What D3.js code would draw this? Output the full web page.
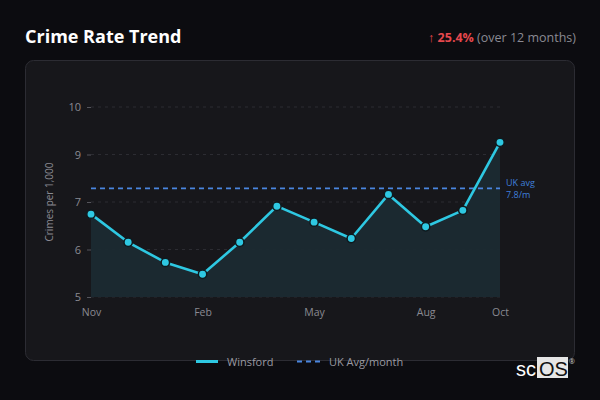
<!DOCTYPE html>
<html><head><meta charset="utf-8">
<script src="https://cdn.jsdelivr.net/npm/d3@7"></script>
<style>
html,body{margin:0;padding:0;background:#0c0c10;}
svg{display:block;font-family:"Open Sans","Noto Sans",sans-serif;}
</style></head>
<body>
<svg id="c" width="600" height="400"></svg>
<script>
const months = ["Nov","Dec","Jan","Feb","Mar","Apr","May","Jun","Jul","Aug","Sep","Oct"];
const winsford = [7.18,6.44,5.91,5.60,6.44,7.39,6.97,6.54,7.70,6.85,7.28,9.07];
const ukAvg = 7.86;
const ukAvgLabel = ["UK avg","7.8/m"];
const yTickValues = [5,6.25,7.5,8.75,10];
const yTickLabels = ["5","6","7","9","10"];
const xTickLabels = ["Nov","Feb","May","Aug","Oct"];
const changeText = "↑ 25.4%";
const changeNote = " (over 12 months)";

const svg = d3.select("#c");
svg.append("rect").attr("width",600).attr("height",400).attr("fill","#0c0c10");

svg.append("text").attr("x",25).attr("y",43).attr("fill","#ffffff")
  .attr("font-size",18).attr("font-weight",700).text("Crime Rate Trend");

const hdr = svg.append("text").attr("x",576).attr("y",42).attr("text-anchor","end").attr("font-size",12.5);
hdr.append("tspan").attr("fill","#e5484d").attr("font-weight",700).text(changeText);
hdr.append("tspan").attr("fill","#8a8a92").text(changeNote);

svg.append("rect").attr("x",25.5).attr("y",60.5).attr("width",549).attr("height",300)
  .attr("rx",8).attr("fill","#17171b").attr("stroke","#2c2c33");

const x = d3.scalePoint().domain(months).range([91,500]);
const y = d3.scaleLinear().domain([5,10]).range([297,107]);

const g = svg.append("g");
g.selectAll("line.grid").data(yTickValues).join("line")
  .attr("x1",91).attr("x2",500).attr("y1",d=>y(d)).attr("y2",d=>y(d))
  .attr("stroke","#2c2c32").attr("stroke-dasharray","3,4").attr("stroke-width",1);

const yAxis = d3.axisLeft(y).tickValues(yTickValues).tickSize(4).tickPadding(6)
  .tickFormat((d,i)=>yTickLabels[i]);
const ya = g.append("g").attr("transform","translate(91,0)").call(yAxis);
ya.select(".domain").remove();
ya.selectAll("line").attr("stroke","#55555c");
ya.selectAll("text").attr("fill","#8a8a92").attr("font-size",11).attr("font-family","'Open Sans',sans-serif");

const xAxis = d3.axisBottom(x).tickValues(xTickLabels).tickSize(0).tickPadding(7);
const xa = g.append("g").attr("transform","translate(0,302)").call(xAxis);
xa.select(".domain").remove();
xa.selectAll("text").attr("fill","#8a8a92").attr("font-size",10.5).attr("font-family","'Open Sans',sans-serif");

svg.append("text").attr("transform","translate(53,202) rotate(-90)").attr("text-anchor","middle")
  .attr("fill","#8a8a92").attr("font-size",10).text("Crimes per 1,000");

const area = d3.area().x((d,i)=>x(months[i])).y0(y(5)).y1(d=>y(d));
g.append("path").datum(winsford).attr("d",area).attr("fill","#1b2a31").attr("opacity",0.95);

g.append("line").attr("x1",91).attr("x2",500).attr("y1",y(ukAvg)).attr("y2",y(ukAvg))
  .attr("stroke","#4a86e0").attr("stroke-width",1.8).attr("stroke-dasharray","5,4");
const ul = g.append("text").attr("x",506).attr("fill","#3f7fdc").attr("font-size",9);
ul.append("tspan").attr("x",506).attr("y",y(ukAvg)-2).text(ukAvgLabel[0]);
ul.append("tspan").attr("x",506).attr("y",y(ukAvg)+10).text(ukAvgLabel[1]);

const line = d3.line().x((d,i)=>x(months[i])).y(d=>y(d));
g.append("path").datum(winsford).attr("d",line).attr("fill","none")
  .attr("stroke","#2ec8e2").attr("stroke-width",2.6).attr("stroke-linejoin","round");
g.selectAll("circle").data(winsford).join("circle")
  .attr("cx",(d,i)=>x(months[i])).attr("cy",d=>y(d)).attr("r",4.2)
  .attr("fill","#2ec8e2").attr("stroke","#0f1a1e").attr("stroke-width",1.5);

const lg = svg.append("g");
lg.append("line").attr("x1",196).attr("x2",218).attr("y1",361.5).attr("y2",361.5)
  .attr("stroke","#2ec8e2").attr("stroke-width",3);
lg.append("text").attr("x",227).attr("y",365.5).attr("fill","#9a9aa2").attr("font-size",11).text("Winsford");
lg.append("line").attr("x1",297).attr("x2",321).attr("y1",361.5).attr("y2",361.5)
  .attr("stroke","#4a86e0").attr("stroke-width",1.8).attr("stroke-dasharray","5,4");
lg.append("text").attr("x",329).attr("y",365.5).attr("fill","#9a9aa2").attr("font-size",11).text("UK Avg/month");

const lo = svg.append("g");
lo.append("rect").attr("x",537).attr("y",357).attr("width",31).attr("height",21).attr("fill","#e6e6e6");
lo.append("text").attr("x",516).attr("y",376).attr("fill","#ffffff").attr("font-size",20)
  .attr("font-family","'Liberation Sans',Arial,sans-serif").text("sc");
lo.append("text").attr("x",539).attr("y",376).attr("fill","#111").attr("font-size",20)
  .attr("font-family","'Liberation Sans',Arial,sans-serif").text("OS");
lo.append("text").attr("x",569).attr("y",364).attr("fill","#cccccc").attr("font-size",7).text("®");
</script>
</body></html>
